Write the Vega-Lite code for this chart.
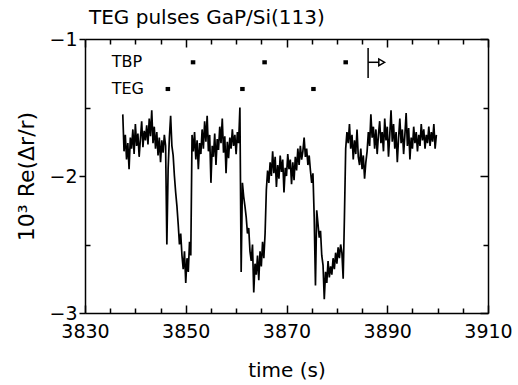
{
  "$schema": "https://vega.github.io/schema/vega-lite/v6.json",
  "width": 403,
  "height": 274,
  "autosize": "none",
  "padding": {"left": 85, "top": 39, "right": 30, "bottom": 72},
  "config": {"font": "DejaVu Sans", "view": {"stroke": null}},
  "title": {"text": "TEG pulses GaP/Si(113)", "anchor": "start", "frame": "group", "fontSize": 20, "fontWeight": "normal", "dx": 4, "offset": 2, "color": "black"},
  "datasets": {
    "trace": [
      {"t":3837.50,"v":-1.55},{"t":3837.75,"v":-1.82},{"t":3838.00,"v":-1.70},{"t":3838.25,"v":-1.88},{"t":3838.50,"v":-1.76},{"t":3838.75,"v":-1.95},{"t":3839.00,"v":-1.72},{"t":3839.25,"v":-1.80},{"t":3839.50,"v":-1.66},{"t":3839.75,"v":-1.84},
      {"t":3840.00,"v":-1.62},{"t":3840.25,"v":-1.78},{"t":3840.50,"v":-1.69},{"t":3840.75,"v":-1.86},{"t":3841.00,"v":-1.73},{"t":3841.25,"v":-1.60},{"t":3841.50,"v":-1.79},{"t":3841.75,"v":-1.67},{"t":3842.00,"v":-1.74},{"t":3842.25,"v":-1.63},
      {"t":3842.50,"v":-1.77},{"t":3842.75,"v":-1.58},{"t":3843.00,"v":-1.71},{"t":3843.25,"v":-1.52},{"t":3843.50,"v":-1.76},{"t":3843.75,"v":-1.64},{"t":3844.00,"v":-1.80},{"t":3844.25,"v":-1.68},{"t":3844.50,"v":-1.85},{"t":3844.75,"v":-1.72},
      {"t":3845.00,"v":-1.90},{"t":3845.25,"v":-1.74},{"t":3845.50,"v":-1.83},{"t":3845.75,"v":-1.70},{"t":3846.00,"v":-1.78},{"t":3846.25,"v":-2.50},{"t":3846.50,"v":-1.95},{"t":3846.75,"v":-1.72},{"t":3847.00,"v":-1.56},{"t":3847.25,"v":-1.78},
      {"t":3847.50,"v":-1.85},{"t":3847.75,"v":-2.00},{"t":3848.00,"v":-2.12},{"t":3848.25,"v":-2.22},{"t":3848.50,"v":-2.35},{"t":3848.75,"v":-2.50},{"t":3849.00,"v":-2.42},{"t":3849.25,"v":-2.58},{"t":3849.50,"v":-2.68},{"t":3849.75,"v":-2.55},
      {"t":3850.00,"v":-2.78},{"t":3850.25,"v":-2.60},{"t":3850.50,"v":-2.70},{"t":3850.75,"v":-2.48},{"t":3851.00,"v":-2.58},{"t":3851.25,"v":-1.70},{"t":3851.50,"v":-1.82},{"t":3851.75,"v":-1.68},{"t":3852.00,"v":-1.88},{"t":3852.25,"v":-1.74},
      {"t":3852.50,"v":-1.95},{"t":3852.75,"v":-1.76},{"t":3853.00,"v":-1.84},{"t":3853.25,"v":-1.66},{"t":3853.50,"v":-1.80},{"t":3853.75,"v":-1.60},{"t":3854.00,"v":-1.75},{"t":3854.25,"v":-1.56},{"t":3854.50,"v":-1.82},{"t":3854.75,"v":-1.70},
      {"t":3855.00,"v":-2.05},{"t":3855.25,"v":-1.78},{"t":3855.50,"v":-1.86},{"t":3855.75,"v":-1.69},{"t":3856.00,"v":-1.92},{"t":3856.25,"v":-1.73},{"t":3856.50,"v":-1.81},{"t":3856.75,"v":-1.64},{"t":3857.00,"v":-1.76},{"t":3857.25,"v":-1.58},
      {"t":3857.50,"v":-1.83},{"t":3857.75,"v":-1.71},{"t":3858.00,"v":-1.98},{"t":3858.25,"v":-1.75},{"t":3858.50,"v":-1.87},{"t":3858.75,"v":-1.72},{"t":3859.00,"v":-1.80},{"t":3859.25,"v":-1.66},{"t":3859.50,"v":-1.78},{"t":3859.75,"v":-1.70},
      {"t":3860.00,"v":-1.84},{"t":3860.25,"v":-1.68},{"t":3860.50,"v":-1.76},{"t":3860.75,"v":-1.50},{"t":3861.00,"v":-2.70},{"t":3861.25,"v":-2.05},{"t":3861.50,"v":-2.15},{"t":3861.75,"v":-2.22},{"t":3862.00,"v":-2.30},{"t":3862.25,"v":-2.42},
      {"t":3862.50,"v":-2.38},{"t":3862.75,"v":-2.55},{"t":3863.00,"v":-2.62},{"t":3863.25,"v":-2.50},{"t":3863.50,"v":-2.85},{"t":3863.75,"v":-2.64},{"t":3864.00,"v":-2.72},{"t":3864.25,"v":-2.58},{"t":3864.50,"v":-2.76},{"t":3864.75,"v":-2.55},
      {"t":3865.00,"v":-2.66},{"t":3865.25,"v":-2.48},{"t":3865.50,"v":-2.60},{"t":3865.75,"v":-2.42},{"t":3866.00,"v":-2.10},{"t":3866.25,"v":-1.96},{"t":3866.50,"v":-2.05},{"t":3866.75,"v":-1.90},{"t":3867.00,"v":-2.00},{"t":3867.25,"v":-1.82},
      {"t":3867.50,"v":-1.98},{"t":3867.75,"v":-1.86},{"t":3868.00,"v":-2.08},{"t":3868.25,"v":-1.92},{"t":3868.50,"v":-2.02},{"t":3868.75,"v":-1.85},{"t":3869.00,"v":-1.97},{"t":3869.25,"v":-1.88},{"t":3869.50,"v":-2.12},{"t":3869.75,"v":-1.94},
      {"t":3870.00,"v":-2.00},{"t":3870.25,"v":-1.84},{"t":3870.50,"v":-1.95},{"t":3870.75,"v":-1.88},{"t":3871.00,"v":-2.06},{"t":3871.25,"v":-1.90},{"t":3871.50,"v":-2.03},{"t":3871.75,"v":-1.86},{"t":3872.00,"v":-1.96},{"t":3872.25,"v":-1.80},
      {"t":3872.50,"v":-1.92},{"t":3872.75,"v":-1.78},{"t":3873.00,"v":-1.88},{"t":3873.25,"v":-1.82},{"t":3873.50,"v":-1.72},{"t":3873.75,"v":-1.86},{"t":3874.00,"v":-1.80},{"t":3874.25,"v":-1.92},{"t":3874.50,"v":-1.85},{"t":3874.75,"v":-1.96},
      {"t":3875.00,"v":-2.05},{"t":3875.25,"v":-1.98},{"t":3875.50,"v":-2.30},{"t":3875.75,"v":-2.80},{"t":3876.00,"v":-2.25},{"t":3876.25,"v":-2.35},{"t":3876.50,"v":-2.45},{"t":3876.75,"v":-2.40},{"t":3877.00,"v":-2.58},{"t":3877.25,"v":-2.65},
      {"t":3877.50,"v":-2.90},{"t":3877.75,"v":-2.70},{"t":3878.00,"v":-2.78},{"t":3878.25,"v":-2.62},{"t":3878.50,"v":-2.74},{"t":3878.75,"v":-2.66},{"t":3879.00,"v":-2.72},{"t":3879.25,"v":-2.60},{"t":3879.50,"v":-2.68},{"t":3879.75,"v":-2.56},
      {"t":3880.00,"v":-2.64},{"t":3880.25,"v":-2.52},{"t":3880.50,"v":-2.60},{"t":3880.75,"v":-2.50},{"t":3881.00,"v":-2.56},{"t":3881.25,"v":-2.75},{"t":3881.50,"v":-2.30},{"t":3881.75,"v":-1.80},{"t":3882.00,"v":-1.68},{"t":3882.25,"v":-1.76},
      {"t":3882.50,"v":-1.62},{"t":3882.75,"v":-1.80},{"t":3883.00,"v":-1.70},{"t":3883.25,"v":-1.88},{"t":3883.50,"v":-1.74},{"t":3883.75,"v":-1.84},{"t":3884.00,"v":-1.66},{"t":3884.25,"v":-1.86},{"t":3884.50,"v":-1.92},{"t":3884.75,"v":-1.80},
      {"t":3885.00,"v":-1.95},{"t":3885.25,"v":-1.85},{"t":3885.50,"v":-2.02},{"t":3885.75,"v":-1.90},{"t":3886.00,"v":-1.82},{"t":3886.25,"v":-1.68},{"t":3886.50,"v":-1.78},{"t":3886.75,"v":-1.55},{"t":3887.00,"v":-1.72},{"t":3887.25,"v":-1.64},
      {"t":3887.50,"v":-1.80},{"t":3887.75,"v":-1.66},{"t":3888.00,"v":-1.84},{"t":3888.25,"v":-1.70},{"t":3888.50,"v":-1.60},{"t":3888.75,"v":-1.76},{"t":3889.00,"v":-1.68},{"t":3889.25,"v":-1.82},{"t":3889.50,"v":-1.58},{"t":3889.75,"v":-1.74},
      {"t":3890.00,"v":-1.64},{"t":3890.25,"v":-1.86},{"t":3890.50,"v":-1.70},{"t":3890.75,"v":-1.52},{"t":3891.00,"v":-1.75},{"t":3891.25,"v":-1.62},{"t":3891.50,"v":-1.80},{"t":3891.75,"v":-1.68},{"t":3892.00,"v":-1.90},{"t":3892.25,"v":-1.72},
      {"t":3892.50,"v":-1.58},{"t":3892.75,"v":-1.76},{"t":3893.00,"v":-1.66},{"t":3893.25,"v":-1.84},{"t":3893.50,"v":-1.70},{"t":3893.75,"v":-1.54},{"t":3894.00,"v":-1.78},{"t":3894.25,"v":-1.65},{"t":3894.50,"v":-1.88},{"t":3894.75,"v":-1.72},
      {"t":3895.00,"v":-1.80},{"t":3895.25,"v":-1.64},{"t":3895.50,"v":-1.76},{"t":3895.75,"v":-1.68},{"t":3896.00,"v":-1.82},{"t":3896.25,"v":-1.70},{"t":3896.50,"v":-1.78},{"t":3896.75,"v":-1.62},{"t":3897.00,"v":-1.74},{"t":3897.25,"v":-1.66},
      {"t":3897.50,"v":-1.80},{"t":3897.75,"v":-1.70},{"t":3898.00,"v":-1.76},{"t":3898.25,"v":-1.64},{"t":3898.50,"v":-1.78},{"t":3898.75,"v":-1.68},{"t":3899.00,"v":-1.75},{"t":3899.25,"v":-1.62},{"t":3899.50,"v":-1.80},{"t":3899.75,"v":-1.70}
    ],
    "pulses": [
      {"gas":"TBP","t0":3851.0,"t1":3851.9,"y0":-1.155,"y1":-1.185},
      {"gas":"TBP","t0":3865.2,"t1":3866.1,"y0":-1.155,"y1":-1.185},
      {"gas":"TBP","t0":3881.3,"t1":3882.2,"y0":-1.155,"y1":-1.185},
      {"gas":"TEG","t0":3846.0,"t1":3846.9,"y0":-1.35,"y1":-1.38},
      {"gas":"TEG","t0":3860.8,"t1":3861.7,"y0":-1.35,"y1":-1.38},
      {"gas":"TEG","t0":3874.9,"t1":3875.8,"y0":-1.35,"y1":-1.38}
    ],
    "labels": [
      {"label":"TBP","t":3835.3,"y":-1.17},
      {"label":"TEG","t":3835.3,"y":-1.365}
    ],
    "marker": [
      {"t":3886.2,"y":-1.065,"y2":-1.285,"t2":3886.2},
      {"t":3886.2,"y":-1.17,"y2":-1.17,"t2":3888.3}
    ],
    "arrow": [
      {"t":3888.9,"y":-1.17}
    ]
  },
  "layer": [
    {
      "data": {"name": "trace"},
      "mark": {"type": "line", "color": "black", "strokeWidth": 1.7},
      "encoding": {
        "x": {"field": "t", "type": "quantitative", "scale": {"domain": [3830, 3910], "nice": false, "zero": false},
          "axis": {"orient": "bottom", "title": "time (s)", "values": [3830,3835,3840,3845,3850,3855,3860,3865,3870,3875,3880,3885,3890,3895,3900,3905,3910],
            "labelExpr": "datum.value % 20 == 10 ? datum.label : ''", "format": "d", "labelOverlap": false,
            "tickSize": {"condition": {"test": "datum.value % 20 == 10", "value": -8}, "value": -5},
            "labelPadding": 17, "labelFontSize": 19, "labelColor": "black", "labelFlush": false,
            "titleFontSize": 20, "titleFontWeight": "normal", "titleColor": "black", "titlePadding": 16,
            "domainColor": "black", "domainWidth": 1.5, "tickColor": "black", "tickWidth": 1.5, "grid": false}},
        "y": {"field": "v", "type": "quantitative", "scale": {"domain": [-3, -1], "nice": false, "zero": false},
          "axis": {"orient": "left", "title": "10³ Re(Δr/r)", "values": [-3, -2, -1], "labelOverlap": false,
            "labelExpr": "datum.value > -1.5 ? '−1' : datum.value > -2.5 ? '−2' : '−3'",
            "tickSize": 6,
            "labelPadding": 2, "labelFontSize": 19, "labelColor": "black", "labelFlush": false,
            "titleFontSize": 22, "titleFontWeight": "normal", "titleColor": "black", "titlePadding": 10,
            "domainColor": "black", "domainWidth": 1.5, "tickColor": "black", "tickWidth": 1.5, "grid": false}}
      }
    },
    {
      "data": {"name": "pulses"},
      "mark": {"type": "rect", "color": "black"},
      "encoding": {
        "x": {"field": "t0", "type": "quantitative",
          "axis": {"orient": "top", "title": null, "labels": false, "values": [3830,3835,3840,3845,3850,3855,3860,3865,3870,3875,3880,3885,3890,3895,3900,3905,3910],
            "tickSize": {"condition": {"test": "datum.value % 20 == 10", "value": -8}, "value": -5},
            "domainColor": "black", "domainWidth": 1.5, "tickColor": "black", "tickWidth": 1.5, "grid": false}},
        "x2": {"field": "t1"},
        "y": {"field": "y0", "type": "quantitative",
          "axis": {"orient": "right", "title": null, "labels": false, "values": [-3, -2.5, -2, -1.5, -1],
            "tickSize": {"condition": {"test": "datum.value % 1 == 0", "value": -8}, "value": -5},
            "domainColor": "black", "domainWidth": 1.5, "tickColor": "black", "tickWidth": 1.5, "grid": false}},
        "y2": {"field": "y1"}
      }
    },
    {
      "data": {"name": "labels"},
      "mark": {"type": "text", "align": "left", "baseline": "middle", "fontSize": 16, "color": "black"},
      "encoding": {
        "x": {"field": "t", "type": "quantitative", "axis": null},
        "y": {"field": "y", "type": "quantitative",
          "axis": {"orient": "left", "title": null, "labels": false, "domain": false, "values": [-2.5, -1.5],
            "tickSize": -5, "tickColor": "black", "tickWidth": 1.5, "grid": false}},
        "text": {"field": "label"}
      }
    },
    {
      "data": {"name": "marker"},
      "mark": {"type": "rule", "color": "black", "strokeWidth": 1.5},
      "encoding": {
        "x": {"field": "t", "type": "quantitative", "axis": null},
        "x2": {"field": "t2"},
        "y": {"field": "y", "type": "quantitative", "axis": null},
        "y2": {"field": "y2"}
      }
    },
    {
      "data": {"name": "arrow"},
      "mark": {"type": "point", "shape": "triangle-right", "filled": false, "color": "black", "strokeWidth": 1.5, "size": 45, "opacity": 1},
      "encoding": {
        "x": {"field": "t", "type": "quantitative", "axis": null},
        "y": {"field": "y", "type": "quantitative", "axis": null}
      }
    }
  ],
  "resolve": {"axis": {"x": "independent", "y": "independent"}}
}
